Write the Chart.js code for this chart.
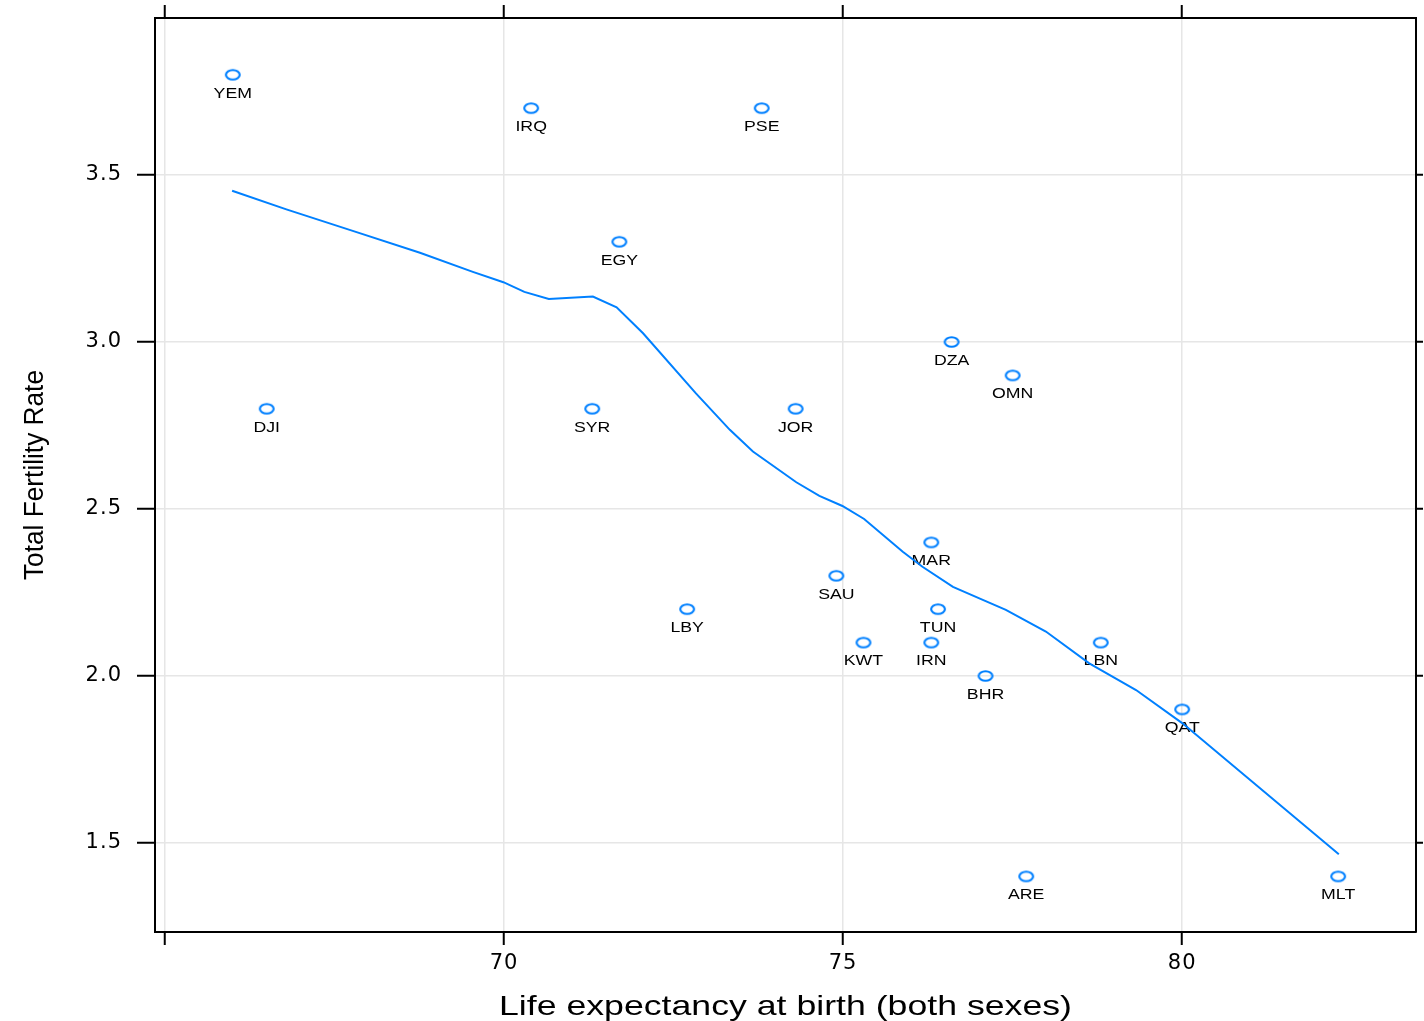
<!DOCTYPE html>
<html><head><meta charset="utf-8">
<script src="https://cdn.jsdelivr.net/npm/chart.js@4.4.1/dist/chart.umd.min.js"></script>
<style>html,body{margin:0;padding:0;background:#fff}canvas{display:block}</style>
</head><body>
<canvas id="c" width="1424" height="1021"></canvas>
<script>
const countries = ['YEM','DJI','IRQ','SYR','EGY','LBY','PSE','JOR','SAU','KWT','IRN','MAR','TUN','DZA','BHR','OMN','ARE','LBN','QAT','MLT'];
const lifeExpectancy = [66.0,66.5,70.4,71.3,71.7,72.7,73.8,74.3,74.9,75.3,76.3,76.3,76.4,76.6,77.1,77.5,77.7,78.8,80.0,82.3];
const fertilityRate = [3.8,2.8,3.7,2.8,3.3,2.2,3.7,2.8,2.3,2.1,2.1,2.4,2.2,3.0,2.0,2.9,1.4,2.1,1.9,1.4];

const smoothX = [65.99,66.79,67.78,68.76,69.54,69.99,70.30,70.66,71.31,71.66,72.05,72.83,73.33,73.67,74.31,74.65,74.99,75.31,75.88,76.17,76.62,77.06,77.40,77.99,78.63,79.32,80.00,82.31];
const smoothY = [3.453,3.397,3.332,3.267,3.210,3.179,3.150,3.129,3.136,3.104,3.026,2.846,2.737,2.672,2.580,2.539,2.509,2.470,2.372,2.327,2.267,2.228,2.198,2.133,2.038,1.958,1.859,1.466];

const xTickValues = [65,70,75,80];
const xTickLabels = ['','70','75','80'];
const yTickValues = [1.5,2.0,2.5,3.0,3.5];
const yTickLabels = ['1.5','2.0','2.5','3.0','3.5'];
const xTitle = 'Life expectancy at birth (both sexes)';
const yTitle = 'Total Fertility Rate';

const BLUE = '#0080ff';
const tickFont = {family:'"DejaVu Sans", sans-serif', size:21};

function ringImage(){
  const c = document.createElement('canvas');
  c.width = 20; c.height = 16;
  const g = c.getContext('2d');
  g.strokeStyle = BLUE; g.lineWidth = 2.1;
  g.beginPath(); g.ellipse(10,8,6.9,4.8,0,0,Math.PI*2); g.stroke();
  return c;
}

const spacingPlugin = {
  id:'tickSpacing',
  beforeDraw(chart){ chart.ctx.letterSpacing = '1px'; },
  beforeDatasetsDraw(chart){ chart.ctx.letterSpacing = '0px'; }
};

const labelPlugin = {
  id:'pointLabels',
  beforeDatasetsDraw(chart){
    const meta = chart.getDatasetMeta(1);
    const ctx = chart.ctx;
    ctx.save();
    ctx.font = '15px "Liberation Sans", Arial, sans-serif';
    ctx.fillStyle = '#000';
    ctx.textAlign = 'center';
    ctx.textBaseline = 'alphabetic';
    meta.data.forEach((el,i)=>{
      ctx.save();
      ctx.translate(el.x, el.y + 22.8);
      ctx.scale(1.18,1);
      ctx.fillText(countries[i],0,0);
      ctx.restore();
    });
    ctx.restore();
  }
};

const titlePlugin = {
  id:'axisTitles',
  afterDraw(chart){
    const ctx = chart.ctx, a = chart.chartArea;
    ctx.save();
    ctx.fillStyle = '#000';
    ctx.textAlign = 'center';
    ctx.textBaseline = 'alphabetic';
    ctx.font = '28px "Liberation Sans", Arial, sans-serif';
    let w = ctx.measureText(xTitle).width;
    ctx.save();
    ctx.translate((a.left+a.right)/2, 1015);
    ctx.scale(573/w,1);
    ctx.fillText(xTitle,0,0);
    ctx.restore();
    ctx.font = '27px "Liberation Sans", Arial, sans-serif';
    w = ctx.measureText(yTitle).width;
    ctx.save();
    ctx.translate(42.5, (a.top+a.bottom)/2);
    ctx.rotate(-Math.PI/2);
    ctx.scale(210/w,1);
    ctx.fillText(yTitle,0,0);
    ctx.restore();
    ctx.restore();
  }
};

const gridOpts = {color:'#e6e6e6', lineWidth:1.5, tickColor:'#000', tickWidth:2};
const borderOpts = {color:'#000', width:2};
const X_MIN = 64.853, X_MAX = 83.448, Y_MIN = 1.2335, Y_MAX = 3.970;
function noPad(s){ s.paddingTop = 0; s.paddingBottom = 0; s.paddingLeft = 0; s.paddingRight = 0; }

new Chart(document.getElementById('c'), {
  type:'scatter',
  data:{
    datasets:[
      {
        type:'line',
        data: smoothX.map((x,i)=>({x:x, y:smoothY[i]})),
        borderColor: BLUE, borderWidth:2, pointRadius:0, tension:0, fill:false, order:0
      },
      {
        data: lifeExpectancy.map((x,i)=>({x:x, y:fertilityRate[i]})),
        pointStyle: ringImage(), pointRadius:7, backgroundColor: BLUE, borderColor: BLUE, order:1
      }
    ]
  },
  options:{
    responsive:false, devicePixelRatio:1, animation:false, events:[],
    layout:{padding:0},
    plugins:{legend:{display:false}, tooltip:{enabled:false}},
    scales:{
      x:{
        type:'linear', position:'bottom', min:X_MIN, max:X_MAX,
        afterBuildTicks: s=>{ s.ticks = xTickValues.map(v=>({value:v})); },
        afterFit: s=>{ s.height = 89; noPad(s); },
        ticks:{ callback:(v)=> xTickLabels[xTickValues.indexOf(v)], font:tickFont, color:'#000', padding:6, maxRotation:0, autoSkip:false },
        grid:Object.assign({tickLength:13}, gridOpts), border:borderOpts
      },
      x2:{
        type:'linear', position:'top', min:X_MIN, max:X_MAX,
        afterBuildTicks: s=>{ s.ticks = xTickValues.map(v=>({value:v})); },
        afterFit: s=>{ s.height = 18; noPad(s); },
        ticks:{ display:false },
        grid:Object.assign({}, gridOpts, {tickLength:13, drawOnChartArea:false}), border:borderOpts
      },
      y:{
        type:'linear', position:'left', min:Y_MIN, max:Y_MAX,
        afterBuildTicks: s=>{ s.ticks = yTickValues.map(v=>({value:v})); },
        afterFit: s=>{ s.width = 155; noPad(s); },
        ticks:{ callback:(v)=> yTickLabels[yTickValues.indexOf(v)], font:tickFont, color:'#000', padding:15, autoSkip:false },
        grid:Object.assign({tickLength:18}, gridOpts), border:borderOpts
      },
      y2:{
        type:'linear', position:'right', min:Y_MIN, max:Y_MAX,
        afterBuildTicks: s=>{ s.ticks = yTickValues.map(v=>({value:v})); },
        afterFit: s=>{ s.width = 7; noPad(s); },
        ticks:{ display:false },
        grid:Object.assign({}, gridOpts, {tickLength:7, drawOnChartArea:false}), border:borderOpts
      }
    }
  },
  plugins:[spacingPlugin, labelPlugin, titlePlugin]
});
</script>
</body></html>
